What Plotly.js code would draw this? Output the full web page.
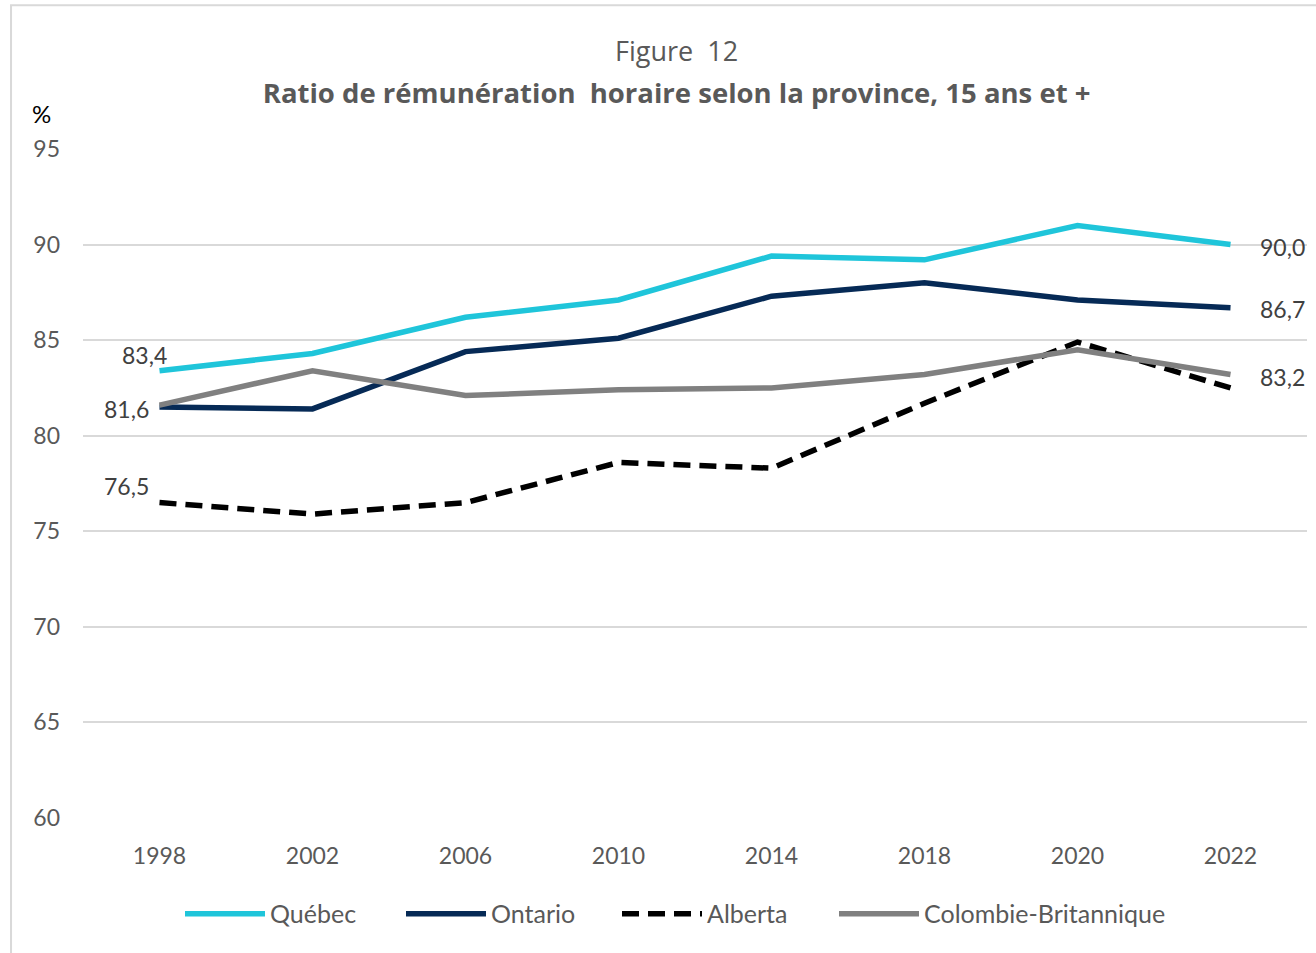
<!DOCTYPE html>
<html>
<head>
<meta charset="utf-8">
<script src="https://cdn.plot.ly/plotly-3.0.1.min.js"></script>
<style>html,body{margin:0;padding:0;background:#fff;}#chart{width:1316px;height:953px;}</style>
</head>
<body>
<div id="chart"></div>
<script>
const years = ['1998','2002','2006','2010','2014','2018','2020','2022'];
const quebec = [83.4, 84.3, 86.2, 87.1, 89.4, 89.2, 91.0, 90.0];
const ontario = [81.5, 81.4, 84.4, 85.1, 87.3, 88.0, 87.1, 86.7];
const alberta = [76.5, 75.9, 76.5, 78.6, 78.3, 81.7, 84.9, 82.5];
const colombieBritannique = [81.6, 83.4, 82.1, 82.4, 82.5, 83.2, 84.5, 83.2];

const seriesNames = ['Québec', 'Ontario', 'Alberta', 'Colombie-Britannique'];
const yTicks = [60, 65, 70, 75, 80, 85, 90, 95];

const fmt = v => v.toFixed(1).replace('.', ',');
const font = 'Lato, Open Sans, sans-serif';
const titleFont = 'Open Sans, Lato, sans-serif';
const txtColor = '#404040';
const last = years.length - 1;

const traces = [
  {x: years, y: quebec, name: seriesNames[0], mode: 'lines', line: {color: '#1FC5DA', width: 5.5}, legend: 'legend'},
  {x: years, y: ontario, name: seriesNames[1], mode: 'lines', line: {color: '#062A56', width: 5.5}, legend: 'legend2'},
  {x: years, y: alberta, name: seriesNames[2], mode: 'lines', line: {color: '#000000', width: 5.5, dash: '17px,9px'}, legend: 'legend3'},
  {x: years, y: colombieBritannique, name: seriesNames[3], mode: 'lines', line: {color: '#808080', width: 5.5}, legend: 'legend4'}
];

function lab(xi, vals, side, xs, ys) {
  return {x: xi, y: vals[xi], xref: 'x', yref: 'y', text: fmt(vals[xi]), showarrow: false,
    xanchor: side, yanchor: 'middle', xshift: xs, yshift: ys,
    font: {family: font, size: 23, color: txtColor}};
}

function leg(px) {
  return {orientation: 'h', x: (px - 6 - 83) / 1224, xanchor: 'left', y: -0.109, yanchor: 'top',
    font: {family: font, size: 25, color: '#595959'}, itemwidth: 80, bgcolor: 'rgba(0,0,0,0)'};
}

const layout = {
  width: 1316, height: 953,
  margin: {l: 83, r: 9, t: 149, b: 135},
  paper_bgcolor: '#fff', plot_bgcolor: '#fff',
  font: {family: font, color: '#595959'},
  title: {
    text: '<b>Ratio de rémunération  horaire selon la province, 15 ans et +</b>',
    font: {family: titleFont, size: 27.5, color: '#595959'},
    x: 0.485, xanchor: 'center', xref: 'paper', y: 1 - 93 / 953, yanchor: 'middle', yref: 'container'
  },
  xaxis: {
    type: 'category', range: [-0.5, 7.5], showgrid: false, zeroline: false, showline: false,
    ticks: '', tickfont: {family: font, size: 23, color: '#595959'}, ticklabelstandoff: 22,
    fixedrange: true
  },
  yaxis: {
    range: [60, 95], tickvals: yTicks, ticktext: yTicks.map(String),
    showgrid: true, gridcolor: '#d9d9d9', gridwidth: 2, zeroline: false, showline: false,
    ticks: '', tickfont: {family: font, size: 23, color: '#595959'}, ticklabelstandoff: 22,
    fixedrange: true
  },
  legend: leg(186),
  legend2: leg(407),
  legend3: leg(623),
  legend4: leg(840),
  annotations: [
    {text: 'Figure  12', xref: 'paper', yref: 'paper', x: 0.485, y: (818 - 50) / 669, xanchor: 'center', yanchor: 'middle',
     showarrow: false, font: {family: titleFont, size: 27, color: '#595959'}},
    {text: '%', xref: 'paper', yref: 'paper', x: -0.034, y: (818 - 113) / 669, xanchor: 'center', yanchor: 'middle',
     showarrow: false, font: {family: font, size: 24, color: '#000'}},
    lab(0, quebec, 'right', 9, 16),
    lab(0, colombieBritannique, 'right', -9, -4),
    lab(0, alberta, 'right', -9, 17),
    lab(last, quebec, 'left', 27, -2),
    lab(last, ontario, 'left', 27, -1),
    lab(last, colombieBritannique, 'left', 27, -2)
  ],
  shapes: [
    {type: 'rect', xref: 'paper', yref: 'paper', x0: -0.0588, x1: 1.02, y0: -0.25, y1: 1.215,
     line: {color: '#d9d9d9', width: 2}, fillcolor: 'rgba(0,0,0,0)', layer: 'below'}
  ],
  showlegend: true
};

Plotly.newPlot('chart', traces, layout, {displayModeBar: false, staticPlot: true});
</script>
</body>
</html>
